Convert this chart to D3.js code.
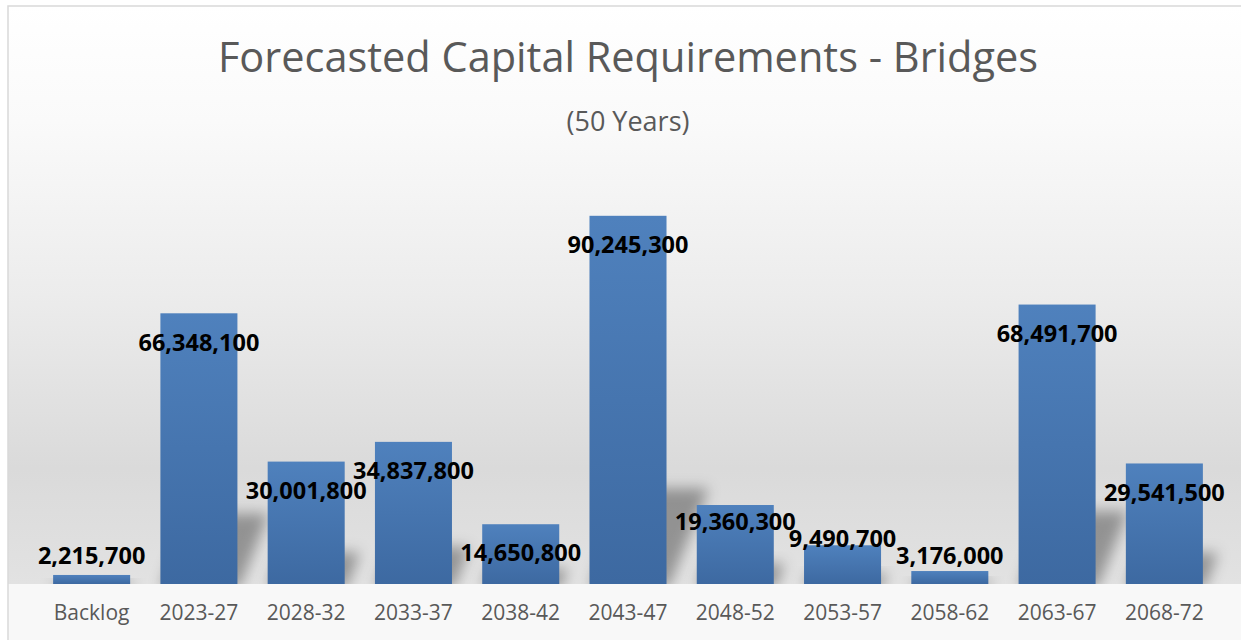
<!DOCTYPE html>
<html>
<head>
<meta charset="utf-8">
<script src="https://cdn.jsdelivr.net/npm/d3@7.9.0/dist/d3.min.js"></script>
<style>
  html, body { margin: 0; padding: 0; background: #fff; }
  svg { display: block; font-family: "Open Sans", "Noto Sans", sans-serif; }
</style>
</head>
<body>
<svg id="chart" width="1241" height="640"></svg>
<script>
/* --- Chart data --- */
const categories = ['Backlog', '2023-27', '2028-32', '2033-37', '2038-42', '2043-47',
                    '2048-52', '2053-57', '2058-62', '2063-67', '2068-72'];
const values = [2215700, 66348100, 30001800, 34837800, 14650800, 90245300,
                19360300, 9490700, 3176000, 68491700, 29541500];
const title = 'Forecasted Capital Requirements - Bridges';
const subtitle = '(50 Years)';

/* --- Layout --- */
const W = 1241, H = 640;
const base = 584;            // category axis line
const svg = d3.select('#chart');
const defs = svg.append('defs');

const x = d3.scaleBand()
  .domain(categories)
  .range([38, 1218])
  .paddingInner(0.282)
  .paddingOuter(0.141);

const y = d3.scaleLinear()
  .domain([0, 100e6])
  .range([base, 176]);

/* --- Gradients --- */
const bgGrad = defs.append('linearGradient')
  .attr('id', 'bg').attr('x1', 0).attr('y1', 0).attr('x2', 0).attr('y2', 1);
[[0, '#ffffff'], [0.2, '#fafafa'], [0.5, '#ececec'], [0.8, '#dadada'], [1, '#e2e2e2']]
  .forEach(([o, c]) => bgGrad.append('stop').attr('offset', o).attr('stop-color', c));

const barGrad = defs.append('linearGradient')
  .attr('id', 'barFill').attr('x1', 0).attr('y1', 0).attr('x2', 0).attr('y2', 1);
barGrad.append('stop').attr('offset', 0).attr('stop-color', '#4f81bd');
barGrad.append('stop').attr('offset', 1).attr('stop-color', '#3d69a1');

defs.append('filter').attr('id', 'blur')
  .attr('x', '-50%').attr('y', '-50%').attr('width', '200%').attr('height', '200%')
  .append('feGaussianBlur').attr('stdDeviation', 7);

defs.append('clipPath').attr('id', 'aboveBase')
  .append('rect').attr('x', 0).attr('y', 0).attr('width', W).attr('height', base);

/* --- Background --- */
svg.append('rect')
  .attr('x', 8).attr('y', 6).attr('width', W).attr('height', base - 6)
  .attr('fill', 'url(#bg)');
svg.append('rect')
  .attr('x', 8).attr('y', base).attr('width', W).attr('height', H - base)
  .attr('fill', '#f8f8f8');
svg.append('rect')
  .attr('x', 8).attr('y', 6).attr('width', W + 20).attr('height', H + 20)
  .attr('fill', 'none').attr('stroke', '#d9d9d9').attr('stroke-width', 1.5);

/* --- Title --- */
const titleText = svg.append('text')
  .attr('x', 628).attr('y', 72)
  .attr('text-anchor', 'middle')
  .attr('fill', '#595959')
  .style('font-size', '42px')
  .text(title);
// fit title width to the reference (~820px)
const tw = titleText.node().getComputedTextLength();
titleText.style('font-size', (42 * 820 / tw).toFixed(1) + 'px');

svg.append('text')
  .attr('x', 628).attr('y', 131)
  .attr('text-anchor', 'middle')
  .attr('fill', '#595959')
  .style('font-size', '27px')
  .text(subtitle);

/* --- Bar shadows (perspective, leaning to the upper right) --- */
const rows = categories.map((c, i) => ({ cat: c, value: values[i] }));

svg.append('g')
  .attr('clip-path', 'url(#aboveBase)')
  .selectAll('path')
  .data(rows)
  .join('path')
  .attr('filter', 'url(#blur)')
  .attr('fill', 'rgba(0,0,0,0.34)')
  .attr('d', d => {
    const x0 = x(d.cat), x1 = x0 + x.bandwidth();
    const h = (base - y(d.value)) * 0.26;
    const k = h * 0.42;
    return `M${x0},${base + 4} L${x1 + 2},${base + 4} L${x1 + 2 + k},${base - h} L${x0 + k},${base - h} Z`;
  });

/* --- Bars --- */
svg.append('g')
  .selectAll('rect')
  .data(rows)
  .join('rect')
  .attr('x', d => x(d.cat))
  .attr('y', d => y(d.value))
  .attr('width', x.bandwidth())
  .attr('height', d => base - y(d.value))
  .attr('fill', 'url(#barFill)');

/* --- Category labels --- */
svg.append('g')
  .selectAll('text')
  .data(categories)
  .join('text')
  .attr('x', d => x(d) + x.bandwidth() / 2)
  .attr('y', 613)
  .attr('dy', '0.35em')
  .attr('text-anchor', 'middle')
  .attr('fill', '#595959')
  .style('font-size', '21px')
  .text(d => d);

/* --- Data labels --- */
const fmt = d3.format(',');
const labels = svg.append('g')
  .selectAll('text')
  .data(rows)
  .join('text')
  .attr('x', d => x(d.cat) + x.bandwidth() / 2)
  .attr('dy', '0.35em')
  .attr('text-anchor', 'middle')
  .attr('fill', '#000')
  .style('font-size', '23.5px')
  .style('font-weight', 'bold')
  .text(d => fmt(d.value));

// inside end, kept above the axis; then push colliding neighbours up (right to left)
labels.each(function (d) {
  d.ly = Math.min(y(d.value) + 29, base - 28);
  d.lw = this.getComputedTextLength();
  d.cx = x(d.cat) + x.bandwidth() / 2;
});
const sep = 17;
for (let i = rows.length - 2; i >= 0; i--) {
  const a = rows[i], b = rows[i + 1];
  const overlapX = Math.abs(a.cx - b.cx) < (a.lw + b.lw) / 2;
  if (overlapX && Math.abs(a.ly - b.ly) < sep) a.ly = b.ly - sep;
}
labels.attr('y', d => d.ly);
</script>
</body>
</html>
